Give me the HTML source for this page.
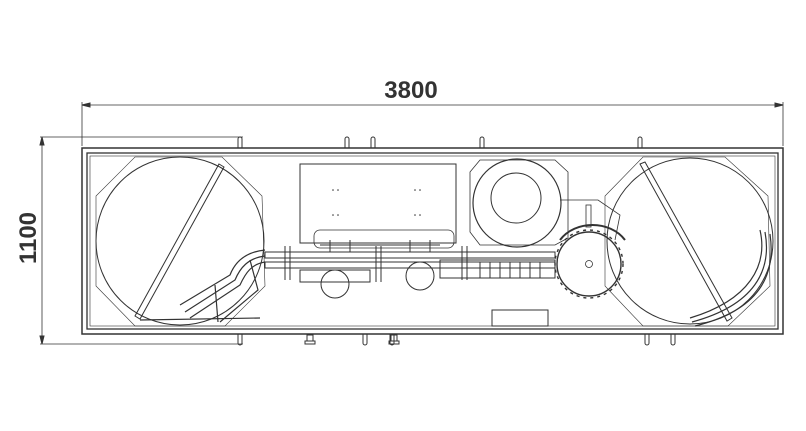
<!DOCTYPE html>
<html><head><style>
html,body{margin:0;padding:0;background:#fff;width:806px;height:431px;overflow:hidden}
svg{display:block}
</style></head><body>
<svg width="806" height="431" viewBox="0 0 806 431" xmlns="http://www.w3.org/2000/svg" fill="none" stroke="#333" stroke-width="1">
<line x1="82" y1="102" x2="82" y2="146" stroke-width="0.8"/>
<line x1="783" y1="102" x2="783" y2="146" stroke-width="0.8"/>
<line x1="82" y1="105" x2="783" y2="105" stroke-width="0.8"/>
<path d="M82 105 l8 -2 v4z M783 105 l-8 -2 v4z" fill="#333"/>
<text x="411" y="98" font-family="Liberation Sans,sans-serif" font-size="24" font-weight="bold" fill="#333" stroke="none" text-anchor="middle">3800</text>
<line x1="40" y1="137" x2="243" y2="137" stroke-width="0.8"/>
<line x1="40" y1="344" x2="243" y2="344" stroke-width="0.8"/>
<line x1="42" y1="137" x2="42" y2="344" stroke-width="0.8"/>
<path d="M42 137 l-2 8 h4z M42 344 l-2 -8 h4z" fill="#333"/>
<text transform="translate(36,238) rotate(-90)" font-family="Liberation Sans,sans-serif" font-size="24" font-weight="bold" fill="#333" stroke="none" text-anchor="middle">1100</text>
<rect x="82" y="148" width="701" height="186" stroke-width="1.5"/>
<rect x="87" y="153" width="691" height="176" stroke-width="1.3"/>
<rect x="90" y="156" width="685" height="170" stroke-width="0.6"/>
<g stroke-width="1">
<path d="M238 148 v-9 a2 2 0 0 1 4 0 v9"/><path d="M345 148 v-9 a2 2 0 0 1 4 0 v9"/><path d="M371 148 v-9 a2 2 0 0 1 4 0 v9"/>
<path d="M480 148 v-9 a2 2 0 0 1 4 0 v9"/><path d="M638 148 v-9 a2 2 0 0 1 4 0 v9"/>
<path d="M238 334 v9 a2 2 0 0 0 4 0 v-9"/><path d="M363 334 v9 a2 2 0 0 0 4 0 v-9"/><path d="M390 334 v9 a2 2 0 0 0 4 0 v-9"/>
<path d="M645 334 v9 a2 2 0 0 0 4 0 v-9"/><path d="M671 334 v9 a2 2 0 0 0 4 0 v-9"/>
<rect x="307" y="335" width="6" height="6"/><rect x="305" y="341" width="10" height="3"/>
<rect x="391" y="335" width="6" height="6"/><rect x="389" y="341" width="10" height="3"/>
</g>
<path d="M135 157 L222 157 L262 196 L265 286 L225 326 L135 326 L96 286 L96 196 Z" stroke-width="0.6"/>
<circle cx="180" cy="241" r="84" stroke-width="1"/>
<path d="M219 164 L224 167 L140 319 L135 316 Z" stroke-width="1"/>
<g stroke-width="1.2">
<path d="M265 250 C245 252 235 262 230 275 L180 305"/>
<path d="M265 256 C248 258 240 268 235 280 L185 312"/>
<path d="M265 262 C252 264 246 272 240 285 L190 318"/>
<path d="M250 260 L258 290 L220 322"/>
<line x1="215" y1="285" x2="218" y2="322"/>
<line x1="140" y1="320" x2="260" y2="318"/>
</g>
<rect x="300" y="164" width="156" height="79" stroke-width="1"/>
<rect x="314" y="230" width="140" height="18" rx="6" stroke-width="0.8"/>
<g fill="#333" stroke="none"><circle cx="333" cy="190" r="0.8"/><circle cx="338" cy="190" r="0.8"/><circle cx="333" cy="215" r="0.8"/><circle cx="338" cy="215" r="0.8"/><circle cx="415" cy="190" r="0.8"/><circle cx="420" cy="190" r="0.8"/><circle cx="415" cy="215" r="0.8"/><circle cx="420" cy="215" r="0.8"/></g>
<g stroke-width="1">
<rect x="265" y="252" width="290" height="6"/>
<rect x="265" y="262" width="290" height="6"/>
<rect x="300" y="270" width="70" height="12"/>
<rect x="440" y="260" width="115" height="18"/>
<line x1="285" y1="246" x2="285" y2="280"/><line x1="290" y1="246" x2="290" y2="280"/>
<line x1="376" y1="246" x2="376" y2="282"/><line x1="381" y1="246" x2="381" y2="282"/>
<line x1="462" y1="246" x2="462" y2="280"/><line x1="467" y1="246" x2="467" y2="280"/>
<path d="M320 245 h120 M330 240 v12 M350 240 v12 M410 240 v12 M430 240 v12"/>
<path d="M480 262 v16 M490 262 v16 M500 262 v16 M510 262 v16 M520 262 v16 M530 262 v16 M540 262 v16"/>
</g>
<circle cx="335" cy="284" r="14" stroke-width="1"/>
<circle cx="420" cy="276" r="14" stroke-width="1"/>
<path d="M480 160 L555 160 L568 172 L568 238 L555 245 L480 245 L470 232 L470 172 Z" stroke-width="0.8"/>
<circle cx="517" cy="203" r="44" stroke-width="1.2"/>
<circle cx="516" cy="198" r="25" stroke-width="1"/>
<path d="M560 200 L598 200 L620 215 L615 240" stroke-width="0.8"/>
<circle cx="589" cy="264" r="32" stroke-width="1.4"/>
<circle cx="589" cy="264" r="34" stroke-width="1.4" stroke-dasharray="3 4"/>
<circle cx="589" cy="264" r="3.5" stroke-width="0.8"/>
<path d="M560 240 C575 220 610 220 625 240" stroke-width="2"/>
<rect x="586" y="205" width="5" height="22" stroke-width="0.8"/>
<rect x="492" y="310" width="56" height="16" stroke-width="1"/>
<path d="M643 157 L725 157 L768 196 L770 286 L728 326 L643 326 L605 286 L605 196 Z" stroke-width="0.6"/>
<circle cx="690" cy="241" r="83" stroke-width="1"/>
<path d="M640 164 L645 162 L732 318 L727 321 Z" stroke-width="1"/>
<g stroke-width="1.2">
<path d="M760 230 C768 265 750 300 690 318"/>
<path d="M765 232 C772 270 755 305 692 322"/>
<path d="M770 234 C776 275 760 310 695 326"/>
</g>
</svg>
</body></html>
